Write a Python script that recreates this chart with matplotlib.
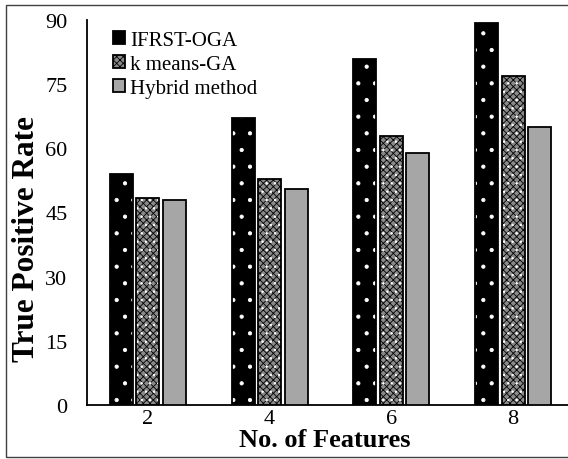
import matplotlib
matplotlib.use("Agg")
import matplotlib.pyplot as plt
import numpy as np
from matplotlib.patches import Patch, Rectangle

categories = ["2", "4", "6", "8"]
series_names = ["IFRST-OGA", "k means-GA", "Hybrid method"]
ifrst_oga = [54.0, 67.2, 80.8, 89.3]
kmeans_ga = [48.5, 52.8, 62.8, 76.8]
hybrid = [48.0, 50.5, 59.0, 65.0]
yticks = [0, 15, 30, 45, 60, 75, 90]

plt.rcParams['font.family'] = ['Liberation Serif', 'DejaVu Serif']
plt.rcParams['hatch.linewidth'] = 0.6

fig = plt.figure(figsize=(5.68, 4.6), dpi=100)
W, H = 568, 460
ax = fig.add_axes([87 / W, (H - 406) / H, (574 - 87) / W, (406 - 21) / H])

x = np.arange(len(categories))
bw = 0.19
off = 0.218

# IFRST-OGA: black with white dots
ax.bar(x - off, ifrst_oga, bw, facecolor='black', edgecolor='white', linewidth=0, hatch='.', zorder=2)
ax.bar(x - off, ifrst_oga, bw, fill=False, edgecolor='black', linewidth=1.3, zorder=3)
# k means-GA: fine checker pattern with white spots
ax.bar(x, kmeans_ga, bw, facecolor='#8a8a8a', edgecolor='black', linewidth=0, hatch='xxxxx', zorder=2)
ax.bar(x, kmeans_ga, bw, fill=False, edgecolor='white', linewidth=0, hatch='..', zorder=2.5)
ax.bar(x, kmeans_ga, bw, fill=False, edgecolor='black', linewidth=1.3, zorder=3)
# Hybrid: gray
ax.bar(x + off, hybrid, bw, facecolor='#a6a6a6', edgecolor='black', linewidth=1.3, zorder=3)

ax.set_xlim(-0.5, 3.5)
ax.set_ylim(0, 90)
ax.set_yticks(yticks)
ax.set_xticks(x)
ax.set_xticklabels(categories)
ax.tick_params(axis='both', length=0, labelsize=16)
ax.tick_params(axis='y', pad=14)
ax.tick_params(axis='x', pad=3)
for s in ['top', 'right']:
    ax.spines[s].set_visible(False)
for s in ['left', 'bottom']:
    ax.spines[s].set_linewidth(1.3)
    ax.spines[s].set_color('black')

fig.text(325 / W, (H - 441) / H, "No. of Features", ha='center', va='center',
         fontsize=19, fontweight='bold')
fig.text(27 / W, (H - 239) / H, "True Positive Rate", ha='center', va='center',
         rotation=90, fontsize=22.5, fontweight='bold')

handles = [
    Patch(facecolor='black', edgecolor='black', linewidth=1.3),
    Patch(facecolor='#8a8a8a', edgecolor='black', linewidth=1.3, hatch='xxxxx'),
    Patch(facecolor='#a6a6a6', edgecolor='black', linewidth=1.3),
]
leg = fig.legend(handles, series_names, loc='upper left',
                 bbox_to_anchor=(98 / W, (H - 17) / H), frameon=False,
                 fontsize=15, handlelength=0.6, handleheight=0.6,
                 handletextpad=0.25, labelspacing=0.25, borderpad=0.2)

fig.patches.append(Rectangle((6 / W, 2 / H), 1.2, (458 - 6) / H,
                             transform=fig.transFigure, fill=False,
                             edgecolor='#404040', linewidth=1.0))

fig.savefig("out.png", dpi=100)
